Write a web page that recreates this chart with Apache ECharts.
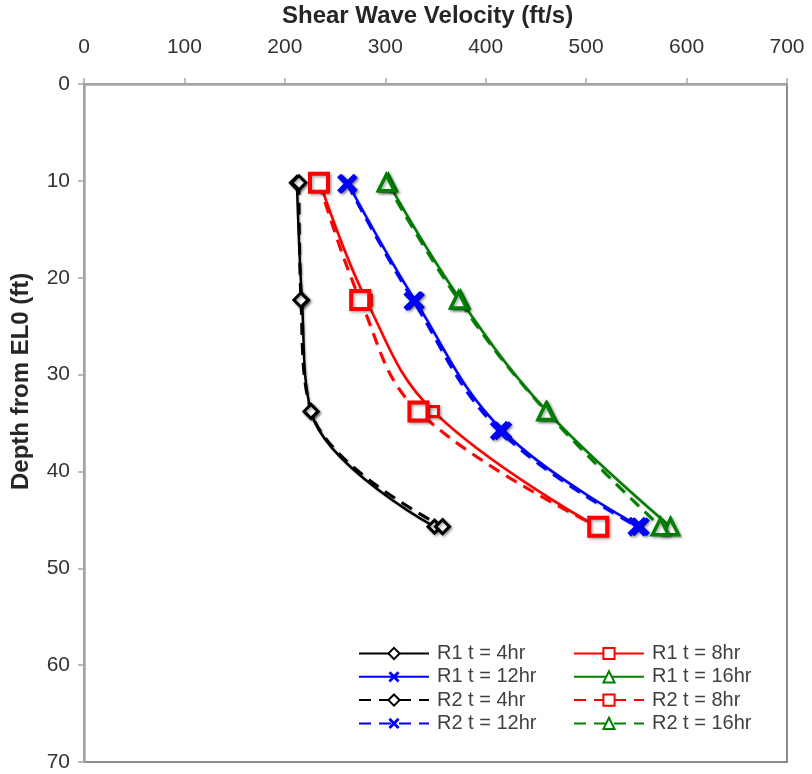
<!DOCTYPE html>
<html>
<head>
<meta charset="utf-8">
<script src="https://cdn.jsdelivr.net/npm/echarts@6/dist/echarts.min.js"></script>
<style>
html,body{margin:0;padding:0;background:#fff;}
#chart{width:812px;height:774px;}
</style>
</head>
<body>
<div id="chart"></div>
<script>
// ---- data ----
const depthsA = [10.2, 22.3, 33.8, 45.7];
const depthsB = [10.3, 22.4, 35.8, 45.7];
const r1_4hr  = [212, 217, 226, 349];
const r2_4hr  = [214, 216, 226, 357];
const r1_8hr  = [235, 281, 348, 511];
const r2_8hr  = [234, 275, 333, 512];
const r1_12hr = [263, 330, 417, 554];
const r2_12hr = [262, 328, 414, 551];
const r1_16hr = [303, 375, 461, 584];
const r2_16hr = [301, 373, 460, 574];
const seriesNames = ['R1 t = 4hr','R1 t = 8hr','R1 t = 12hr','R1 t = 16hr','R2 t = 4hr','R2 t = 8hr','R2 t = 12hr','R2 t = 16hr'];
const xTitle = 'Shear Wave Velocity (ft/s)';
const yTitle = 'Depth from EL0 (ft)';

const X_PATH = 'path://M1.8,0 L5,3.2 L8.2,0 L10,1.8 L6.8,5 L10,8.2 L8.2,10 L5,6.8 L1.8,10 L0,8.2 L3.2,5 L0,1.8 Z';

function pairs(vals, depths){ return vals.map((v,i)=>[v, depths[i]]); }

const shadow = {shadowBlur:3, shadowColor:'rgba(0,0,0,0.35)', shadowOffsetX:1.5, shadowOffsetY:1.5};

function mk(name, vals, depths, color, dashed, symbol, size, fill, bw){
  return {
    name: name,
    type: 'line',
    smooth: 0.4,
    data: pairs(vals, depths),
    symbol: symbol,
    symbolSize: size,
    showAllSymbol: true,
    lineStyle: {color: color, width: dashed ? 3 : 2.5, type: dashed ? [12, 8] : 'solid',
      shadowBlur:2, shadowColor:'rgba(0,0,0,0.25)', shadowOffsetX:1, shadowOffsetY:1},
    itemStyle: Object.assign({color: fill, borderColor: color, borderWidth: bw, opacity:1}, shadow),
    emphasis: {disabled: true},
    z: dashed ? 3 : 2
  };
}

const series = [
  mk(seriesNames[0], r1_4hr, depthsA, '#000000', false, 'diamond', 13, '#ffffff', 3),
  mk(seriesNames[1], r1_8hr, depthsA, '#ff0000', false, 'rect', 10, '#ffffff', 3),
  mk(seriesNames[2], r1_12hr, depthsB, '#0000ff', false, X_PATH, 19, '#0000ff', 0),
  mk(seriesNames[3], r1_16hr, depthsA, '#008000', false, 'triangle', 16, '#ffffff', 3.5),
  mk(seriesNames[4], r2_4hr, depthsA, '#000000', true, 'diamond', 14, '#ffffff', 3),
  mk(seriesNames[5], r2_8hr, depthsA, '#ff0000', true, 'rect', 18, '#ffffff', 4),
  mk(seriesNames[6], r2_12hr, depthsB, '#0000ff', true, X_PATH, 20, '#0000ff', 0),
  mk(seriesNames[7], r2_16hr, depthsA, '#008000', true, 'triangle', 16, '#ffffff', 3.5)
];

const font = 'Liberation Sans, Arial, sans-serif';
const legendCommon = {
  orient: 'vertical',
  padding: 0,
  itemWidth: 70,
  itemHeight: 14,
  itemGap: 0.3,
  textStyle: {fontFamily: font, fontSize: 20, color: '#404040', lineHeight: 23, padding:[0,0,0,3]},
  selectedMode: false
};

const option = {
  backgroundColor: '#ffffff',
  animation: false,
  grid: {left: 84, top: 84, width: 703, height: 678, show: true, borderColor: '#8c8c8c', borderWidth: 2, backgroundColor: 'transparent'},
  xAxis: {
    type: 'value', position: 'top', min: 0, max: 700, interval: 100,
    axisLine: {show: true, lineStyle: {color: '#a6a6a6', width: 2.5}},
    axisTick: {show: true, inside: false, length: 6, lineStyle: {color: '#a6a6a6', width: 1.5}},
    axisLabel: {fontFamily: font, fontSize: 21, color: '#333333', margin: 26},
    splitLine: {show: false}
  },
  yAxis: {
    type: 'value', inverse: true, min: 0, max: 70, interval: 10,
    axisLine: {show: true, lineStyle: {color: '#a6a6a6', width: 2.5}},
    axisTick: {show: true, inside: false, length: 6, lineStyle: {color: '#a6a6a6', width: 1.5}},
    axisLabel: {fontFamily: font, fontSize: 21, color: '#333333', margin: 14},
    splitLine: {show: false}
  },
  legend: [
    Object.assign({left: 358, top: 642, data: [seriesNames[0], seriesNames[2], seriesNames[4], seriesNames[6]]}, legendCommon),
    Object.assign({left: 573, top: 642, data: [seriesNames[1], seriesNames[3], seriesNames[5], seriesNames[7]]}, legendCommon)
  ],
  graphic: [
    {type: 'text', x: 282, y: 4, style: {text: xTitle, font: 'bold 24px Liberation Sans, Arial, sans-serif', fill: '#262626'}},
    {type: 'text', x: 9, y: 490, rotation: Math.PI/2, style: {text: yTitle, font: 'bold 24px Liberation Sans, Arial, sans-serif', fill: '#262626'}}
  ],
  series: series
};

const chart = echarts.init(document.getElementById('chart'), null, {renderer: 'canvas'});
chart.setOption(option);
</script>
</body>
</html>
